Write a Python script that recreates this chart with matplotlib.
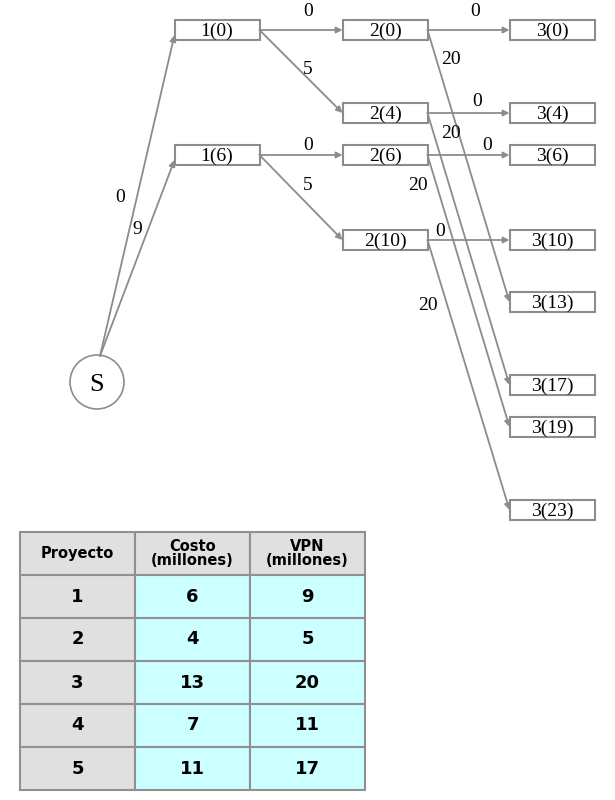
import matplotlib
matplotlib.use("Agg")
import matplotlib.pyplot as plt
from matplotlib.patches import Rectangle, Circle

# nodes: label, center x, center y
stage1 = ["1(0)", "1(6)"]
stage1_y = [30, 155]
stage2 = ["2(0)", "2(4)", "2(6)", "2(10)"]
stage2_y = [30, 113, 155, 240]
stage3 = ["3(0)", "3(4)", "3(6)", "3(10)", "3(13)", "3(17)", "3(19)", "3(23)"]
stage3_y = [30, 113, 155, 240, 302, 385, 427, 510]
# edges: (from, to, label, label position)
edges = [("S", "1(0)", "0", (120, 197)), ("S", "1(6)", "9", (137, 230)),
         ("1(0)", "2(0)", "0", (308, 12)), ("1(0)", "2(4)", "5", (308, 70)),
         ("1(6)", "2(6)", "0", (308, 145)), ("1(6)", "2(10)", "5", (308, 185)),
         ("2(0)", "3(0)", "0", (475, 12)), ("2(0)", "3(13)", "20", (451, 60)),
         ("2(4)", "3(4)", "0", (477, 102)), ("2(4)", "3(17)", "20", (451, 133)),
         ("2(6)", "3(6)", "0", (487, 145)), ("2(6)", "3(19)", "20", (418, 185)),
         ("2(10)", "3(10)", "0", (440, 232)), ("2(10)", "3(23)", "20", (428, 305))]

proyecto = ["1", "2", "3", "4", "5"]
costo = ["6", "4", "13", "7", "11"]
vpn = ["9", "5", "20", "11", "17"]
headers = ["Proyecto", "Costo\n(millones)", "VPN\n(millones)"]

fig = plt.figure(figsize=(6.15, 8), dpi=100)
ax = fig.add_axes([0, 0, 1, 1])
ax.set_xlim(0, 615); ax.set_ylim(800, 0); ax.axis("off")
gray = "#8c8c8c"
serif = "Liberation Serif"
W, H = 85, 20
pos = {}
for names, ys, cx in [(stage1, stage1_y, 217), (stage2, stage2_y, 385), (stage3, stage3_y, 552)]:
    for n, y in zip(names, ys):
        pos[n] = (cx, y)
        ax.add_patch(Rectangle((cx - W/2, y - H/2), W, H, fill=False, ec=gray, lw=1.5))
        ax.text(cx, y + 1, n, ha="center", va="center", fontsize=14, family=serif)
S = (97, 382); R = 27
ax.add_patch(Circle(S, R, fill=False, ec=gray, lw=1.2))
ax.text(S[0], S[1] + 3, "S", ha="center", va="center", fontsize=19, family=serif)

for a, b, lab, lp in edges:
    bx, by = pos[b]
    if a == "S":
        start = (S[0] + 3, S[1] - R + 1)
        end = (bx - W/2, by + 5)
    else:
        ax_, ay = pos[a]
        start = (ax_ + W/2, ay)
        end = (bx - W/2, by)
    ax.annotate("", xy=end, xytext=start,
                arrowprops=dict(arrowstyle="-|>", color=gray, lw=1.3, mutation_scale=9,
                                shrinkA=0, shrinkB=0))
    ax.text(lp[0], lp[1], lab, ha="center", va="center", fontsize=14, family=serif)

# table
cols = [20, 135, 250, 365]
rows = [532, 575, 618, 661, 704, 747, 790]
tf = "DejaVu Sans"
for j in range(3):
    ax.add_patch(Rectangle((cols[j], rows[0]), cols[j+1]-cols[j], rows[1]-rows[0],
                           fc="#e0e0e0", ec="#909090", lw=1.5))
    ax.text((cols[j]+cols[j+1])/2, (rows[0]+rows[1])/2, headers[j], ha="center", va="center",
            fontsize=10.5, fontweight="bold", family=tf, linespacing=0.95)
for i in range(5):
    vals = [proyecto[i], costo[i], vpn[i]]
    for j in range(3):
        ax.add_patch(Rectangle((cols[j], rows[i+1]), cols[j+1]-cols[j], rows[i+2]-rows[i+1],
                               fc="#e0e0e0" if j == 0 else "#ccffff", ec="#909090", lw=1.5))
        ax.text((cols[j]+cols[j+1])/2, (rows[i+1]+rows[i+2])/2, vals[j], ha="center",
                va="center", fontsize=13, fontweight="bold", family=tf)
fig.savefig("out.png", dpi=100)
